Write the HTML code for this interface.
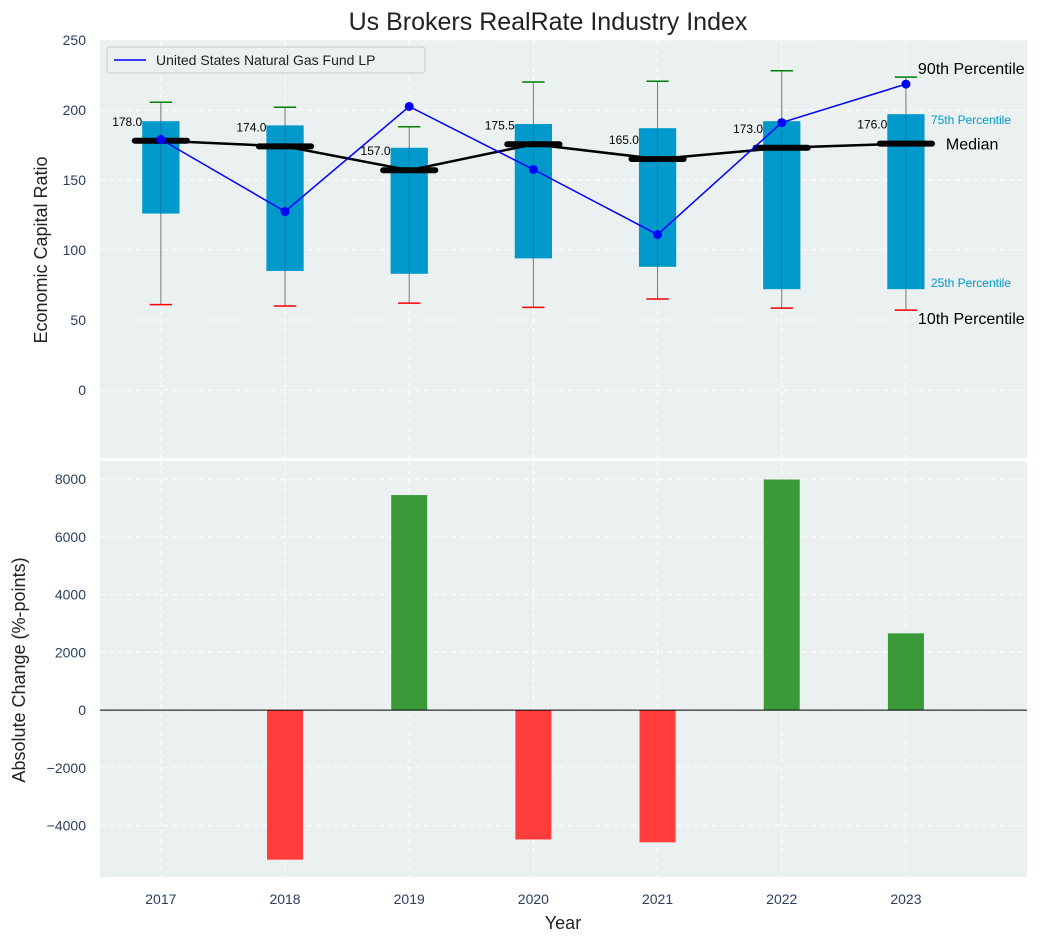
<!DOCTYPE html>
<html><head><meta charset="utf-8"><style>
body{margin:0;background:#fff;}
svg{font-family:"Liberation Sans","DejaVu Sans",sans-serif;}
</style></head><body>
<svg id="chart" width="1053" height="942" viewBox="0 0 1053 942" xmlns="http://www.w3.org/2000/svg">
<text x="548" y="30" text-anchor="middle" font-size="25" fill="#222">Us Brokers RealRate Industry Index</text>
<g id="topPanel"></g>
<g id="botPanel"></g>
</svg>
<script>
const years = ['2017','2018','2019','2020','2021','2022','2023'];
const p10 = [61, 60, 62, 59, 65, 58.5, 57];
const p25 = [126, 85, 83, 94, 88, 72, 72];
const medians = [178, 174, 157, 175.5, 165, 173, 176];
const p75 = [192, 189, 173, 190, 187, 192, 197];
const p90 = [205.5, 202, 188, 220, 220.5, 228, 223.5];
const fundValues = [179, 127.5, 202.5, 157.5, 111, 191, 218.5];
const changes = [0, -5180, 7450, -4480, -4580, 7990, 2660];
const topTicks = [0, 50, 100, 150, 200, 250];
const botTicks = [-4000, -2000, 0, 2000, 4000, 6000, 8000];

const NS = 'http://www.w3.org/2000/svg';
function mk(parent, tag, attrs, text){
  const e = document.createElementNS(NS, tag);
  for (const k in attrs) e.setAttribute(k, attrs[k]);
  if (text !== undefined) e.textContent = text;
  parent.appendChild(e);
  return e;
}
const L = 100, R = 1027;
const xMin = -0.49, xMax = 6.975;
const x = i => L + (i - xMin) / (xMax - xMin) * (R - L);
const T1 = 40, B1 = 458, yMin1 = -48.6, yMax1 = 250;
const y1 = v => B1 - (v - yMin1) / (yMax1 - yMin1) * (B1 - T1);
const T2 = 461, B2 = 877, yMin2 = -5780, yMax2 = 8630;
const y2 = v => B2 - (v - yMin2) / (yMax2 - yMin2) * (B2 - T2);
const tickCol = '#2a3f5f';

const topG = document.getElementById('topPanel');
const botG = document.getElementById('botPanel');

let bg = mk(topG, 'rect', {x: L, y: T1, width: R - L, height: B1 - T1, fill: '#ebf0f0'});


let bg2 = mk(botG, 'rect', {x: L, y: T2, width: R - L, height: B2 - T2, fill: '#ebf0f0'});



years.forEach((yr, i) => {
  let g = mk(topG, 'line', {x1: x(i), x2: x(i), y1: T1, y2: B1, stroke: '#fff', 'stroke-dasharray': '5,4', 'stroke-width': 1});
  
  
  let g2 = mk(botG, 'line', {x1: x(i), x2: x(i), y1: T2, y2: B2, stroke: '#fff', 'stroke-dasharray': '5,4', 'stroke-width': 1});
  
  
  let t = mk(botG, 'text', {x: x(i), y: 904, 'text-anchor': 'middle', 'font-size': 14, fill: tickCol}, yr);
  
  
});
topTicks.forEach(v => {
  let g = mk(topG, 'line', {x1: L, x2: R, y1: y1(v), y2: y1(v), stroke: '#fff', 'stroke-dasharray': '5,4'});
  
  
  let t = mk(topG, 'text', {x: 86, y: y1(v) + 5, 'text-anchor': 'end', 'font-size': 14, fill: tickCol}, v);
  
  
});
botTicks.forEach(v => {
  let g = mk(botG, 'line', {x1: L, x2: R, y1: y2(v), y2: y2(v), stroke: '#fff', 'stroke-dasharray': '5,4'});
  
  
  let t = mk(botG, 'text', {x: 86, y: y2(v) + 5, 'text-anchor': 'end', 'font-size': 14, fill: tickCol}, (v < 0 ? '\u2212' + Math.abs(v) : v));
  
  
});

const bw = 0.15, cw = 0.09, mw = 0.21;
years.forEach((yr, i) => {
  let w = mk(topG, 'line', {x1: x(i), x2: x(i), y1: y1(p10[i]), y2: y1(p90[i]), stroke: '#777', 'stroke-width': 1});
  
  
  let b = mk(topG, 'rect', {x: x(i - bw), y: y1(p75[i]), width: x(i + bw) - x(i - bw), height: y1(p25[i]) - y1(p75[i]), fill: '#0099cc'});
  
  
  let w2 = mk(topG, 'line', {x1: x(i), x2: x(i), y1: y1(p25[i]), y2: y1(p75[i]), stroke: '#336', 'stroke-width': 0.6, opacity: 0.6});
  
  
  let c1 = mk(topG, 'line', {x1: x(i - cw), x2: x(i + cw), y1: y1(p10[i]), y2: y1(p10[i]), stroke: 'red', 'stroke-width': 1.5});
  
  
  let c2 = mk(topG, 'line', {x1: x(i - cw), x2: x(i + cw), y1: y1(p90[i]), y2: y1(p90[i]), stroke: 'green', 'stroke-width': 1.5});
  
  
});
let mpts = medians.map((m, i) => x(i) + ',' + y1(m)).join(' ');
let ml = mk(topG, 'polyline', {points: mpts, fill: 'none', stroke: '#000', 'stroke-width': 2.5});


years.forEach((yr, i) => {
  let m = mk(topG, 'line', {x1: x(i - mw), x2: x(i + mw), y1: y1(medians[i]), y2: y1(medians[i]), stroke: '#000', 'stroke-width': 6, 'stroke-linecap': 'round'});
  
  
  let t = mk(topG, 'text', {x: x(i - 0.15), y: y1(medians[i]) - 15, 'text-anchor': 'end', 'font-size': 12, fill: '#000'}, medians[i].toFixed(1));
  
  
});
let fpts = fundValues.map((v, i) => x(i) + ',' + y1(v)).join(' ');
let fl = mk(topG, 'polyline', {points: fpts, fill: 'none', stroke: '#0000ff', 'stroke-width': 1.5});


fundValues.forEach((v, i) => {
  let c = mk(topG, 'circle', {cx: x(i), cy: y1(v), r: 4.5, fill: '#0000ff'});
  
  
});
const li = years.length - 1;
const ann = [
  ['90th Percentile', x(li) + 12, y1(p90[li]) - 3, 16, '#000', 'p90-annotation'],
  ['75th Percentile', x(li) + 25, y1(p75[li]) + 10, 12, '#0099cc', 'p75-annotation'],
  ['Median', x(li) + 40, y1(medians[li]) + 6, 16, '#000', 'median-annotation'],
  ['25th Percentile', x(li) + 25, y1(p25[li]) - 2, 12, '#0099cc', 'p25-annotation'],
  ['10th Percentile', x(li) + 12, y1(p10[li]) + 14, 16, '#000', 'p10-annotation']
];
ann.forEach(a => {
  let t = mk(topG, 'text', {x: a[1], y: a[2], 'font-size': a[3], fill: a[4]}, a[0]);
  
  
});
let lg = mk(topG, 'g', {});


mk(lg, 'rect', {x: 107, y: 47, width: 318, height: 26, rx: 3, fill: '#ebf0f0', stroke: '#ccc'});
mk(lg, 'line', {x1: 114, x2: 146, y1: 60, y2: 60, stroke: '#0000ff', 'stroke-width': 1.5});
let lt = mk(lg, 'text', {x: 156, y: 65, 'font-size': 14, fill: '#222'}, 'United States Natural Gas Fund LP');


let yt = mk(topG, 'text', {x: 47, y: 250, 'text-anchor': 'middle', 'font-size': 18, fill: '#222', transform: 'rotate(-90 47 250)'}, 'Economic Capital Ratio');



const barw = 0.145;
changes.forEach((v, i) => {
  if (v === 0) return;
  let b = mk(botG, 'rect', {x: x(i - barw), width: x(i + barw) - x(i - barw), y: Math.min(y2(v), y2(0)), height: Math.abs(y2(v) - y2(0)), fill: v > 0 ? '#3a9a3a' : '#ff3d3d'});
  
  
});
let zl = mk(botG, 'line', {x1: L, x2: R, y1: y2(0), y2: y2(0), stroke: '#000', 'stroke-width': 1});


let yt2 = mk(botG, 'text', {x: 25, y: 670, 'text-anchor': 'middle', 'font-size': 18, fill: '#222', transform: 'rotate(-90 25 670)'}, 'Absolute Change (%-points)');


let xt = mk(botG, 'text', {x: 563, y: 929, 'text-anchor': 'middle', 'font-size': 18, fill: '#222'}, 'Year');


</script>
</body></html>
